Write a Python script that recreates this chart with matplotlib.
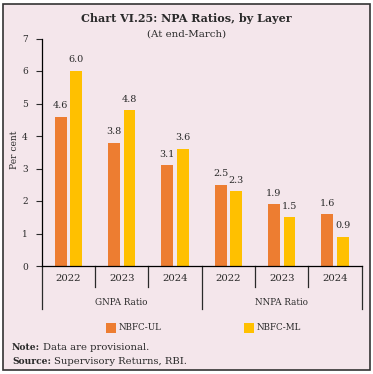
import matplotlib.pyplot as plt
from matplotlib.patches import Rectangle

# data
years = ["2022", "2023", "2024", "2022", "2023", "2024"]
groups = ["GNPA Ratio", "NNPA Ratio"]
nbfc_ul = [4.6, 3.8, 3.1, 2.5, 1.9, 1.6]
nbfc_ml = [6.0, 4.8, 3.6, 2.3, 1.5, 0.9]

bg = "#f4e6eb"
orange = "#ed7d31"
yellow = "#ffc000"
txt = "#2a2a2a"
plt.rcParams["font.family"] = ["DejaVu Serif"]

W, H = 373, 374
fig = plt.figure(figsize=(W / 100, H / 100), dpi=100)
fig.patch.set_facecolor("white")
fig.patches.append(Rectangle((3 / W, 1 - 370 / H), 367 / W, 366 / H,
                             transform=fig.transFigure, facecolor=bg,
                             edgecolor="#333333", linewidth=1.2, zorder=-1))

left, right, bottom, top = 41.7, 361.7, 266, 38.5
ax = fig.add_axes([left / W, 1 - bottom / H, (right - left) / W, (bottom - top) / H])
ax.set_facecolor("none")

x = list(range(len(years)))
off = 0.145
wid = 0.22
ax.bar([i - off for i in x], nbfc_ul, wid, color=orange, label="NBFC-UL")
ax.bar([i + off for i in x], nbfc_ml, wid, color=yellow, label="NBFC-ML")
for i in x:
    ax.text(i - off, nbfc_ul[i] + 0.2, f"{nbfc_ul[i]:.1f}", ha="center", va="bottom",
            fontsize=6.9, color=txt)
    ax.text(i + off, nbfc_ml[i] + 0.2, f"{nbfc_ml[i]:.1f}", ha="center", va="bottom",
            fontsize=6.9, color=txt)

ax.set_xlim(-0.5, 5.5)
ax.set_ylim(0, 7)
ax.set_yticks(range(8))
ax.tick_params(axis="y", labelsize=6.5, length=4, width=0.8, colors=txt, pad=6)
ax.set_xticks([])
for s in ["top", "right"]:
    ax.spines[s].set_visible(False)
ax.spines["left"].set_linewidth(0.9)
ax.spines["bottom"].set_linewidth(0.9)
ax.set_ylabel("Per cent", fontsize=6.5, color=txt)
ax.yaxis.set_label_coords((19 - left) / (right - left), (bottom - 150) / (bottom - top))

# category axis
for i in x:
    ax.text(i, -0.37, years[i], ha="center", va="center", fontsize=7.3,
            clip_on=False, color=txt)
for b in range(7):
    ln = 1.33 if b in (0, 3, 6) else 0.66
    ax.plot([b - 0.5, b - 0.5], [0, -ln], color=txt, lw=0.9, clip_on=False)
for g, name in enumerate(groups):
    ax.text(g * 3 + 1, -1.11, name, ha="center", va="center", fontsize=6.3,
            clip_on=False, color=txt)

# legend
fig.patches.append(Rectangle((106 / W, 1 - 333 / H), 10 / W, 10 / H,
                             transform=fig.transFigure, facecolor=orange))
fig.text(119 / W, 1 - 328 / H, "NBFC-UL", fontsize=6.3, va="center", color=txt)
fig.patches.append(Rectangle((244 / W, 1 - 333 / H), 10 / W, 10 / H,
                             transform=fig.transFigure, facecolor=yellow))
fig.text(257 / W, 1 - 328 / H, "NBFC-ML", fontsize=6.3, va="center", color=txt)

fig.text(0.5, 1 - 19 / H, "Chart VI.25: NPA Ratios, by Layer", ha="center", va="center",
         fontsize=8, fontweight="bold", color=txt)
fig.text(0.5, 1 - 34 / H, "(At end-March)", ha="center", va="center", fontsize=7.4,
         color=txt)

# notes: bold lead-in followed by regular text
renderer = fig.canvas.get_renderer()
for ypix, lead, rest in [(348, "Note:", "Data are provisional."),
                         (361, "Source:", "Supervisory Returns, RBI.")]:
    t = fig.text(12 / W, 1 - ypix / H, lead, fontsize=6.6, fontweight="bold",
                 va="center", color=txt)
    x1 = t.get_window_extent(renderer).x1
    fig.text((x1 + 3) / W, 1 - ypix / H, rest, fontsize=7.2, va="center", color=txt)

fig.savefig("out.png", dpi=100, facecolor=fig.get_facecolor())
